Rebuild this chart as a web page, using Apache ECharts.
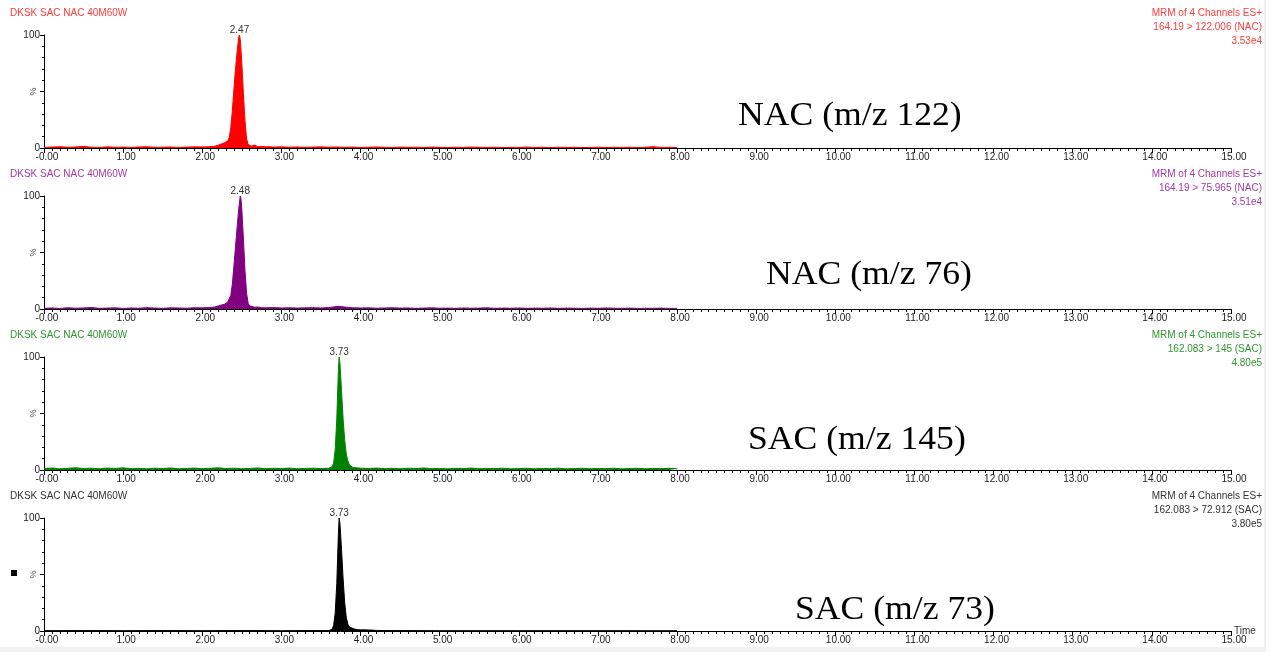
<!DOCTYPE html>
<html>
<head>
<meta charset="utf-8">
<title>MRM chromatograms</title>
<script src="https://cdn.jsdelivr.net/npm/echarts@6/dist/echarts.min.js"></script>
<style>
html, body { margin: 0; padding: 0; background: #fff; }
#main { width: 1274px; height: 652px; }
</style>
</head>
<body>
<div id="main"></div>
<script>
// [time (min), intensity (%)]
var nac122 = [
    [0,0.5],[0.1,0.8],[0.2,1.2],[0.3,0.6],[0.4,0.9],[0.5,1.4],[0.6,0.7],[0.7,0.5],[0.8,1.0],[0.9,0.6],
    [1.0,0.8],[1.1,0.5],[1.2,0.9],[1.3,1.1],[1.4,0.6],[1.5,0.7],[1.6,0.9],[1.7,0.5],[1.8,0.8],[1.9,1.0],
    [2.0,0.9],[2.1,1.2],[2.16,1.6],[2.2,2.4],[2.22,3.0],[2.24,3.5],[2.26,4.0],[2.28,4.6],[2.30,5.2],[2.32,6.2],
    [2.34,9],[2.36,18],[2.38,33],[2.40,52],[2.42,70],[2.44,85],[2.46,98],[2.47,100],[2.48,96],[2.50,75],
    [2.52,48],[2.54,24],[2.56,8],[2.58,3.2],[2.60,2.2],[2.62,1.6],[2.64,2.0],[2.66,2.6],[2.68,1.5],[2.70,1.3],
    [2.75,1.4],[2.8,1.0],[2.85,1.2],[2.9,0.8],[3.0,1.0],[3.1,0.7],[3.2,0.9],[3.3,0.6],[3.4,0.8],[3.5,1.0],
    [3.6,0.7],[3.7,0.9],[3.8,0.6],[3.9,0.8],[4.0,0.5],[4.1,0.7],[4.2,0.9],[4.3,0.6],[4.4,0.5],[4.5,0.8],
    [4.6,0.6],[4.7,0.7],[4.8,0.5],[4.9,0.8],[5.0,0.6],[5.1,0.4],[5.2,0.7],[5.3,0.5],[5.4,0.8],[5.5,0.6],
    [5.6,0.5],[5.7,0.7],[5.8,0.4],[5.9,0.6],[6.0,0.5],[6.1,0.8],[6.2,0.5],[6.3,0.6],[6.4,0.4],[6.5,0.7],
    [6.6,0.5],[6.7,0.6],[6.8,0.4],[6.9,0.5],[7.0,0.7],[7.1,0.4],[7.2,0.6],[7.3,0.5],[7.4,0.7],[7.5,0.4],
    [7.6,0.6],[7.7,1.2],[7.8,0.5],[7.9,0.6],[8.0,0.4]
];
var nac76 = [
    [0,0.6],[0.1,0.9],[0.2,0.5],[0.3,1.1],[0.4,0.7],[0.5,0.9],[0.6,1.3],[0.7,0.6],[0.8,0.8],[0.9,1.0],
    [1.0,0.5],[1.1,0.9],[1.2,0.7],[1.3,1.2],[1.4,0.8],[1.5,0.6],[1.6,1.0],[1.7,0.9],[1.8,0.7],[1.9,1.1],
    [2.0,1.0],[2.1,1.3],[2.16,1.8],[2.2,2.6],[2.24,3.5],[2.28,4.2],[2.30,5.0],[2.32,6.0],[2.34,7.5],[2.36,12],
    [2.38,22],[2.40,38],[2.42,55],[2.44,72],[2.46,88],[2.48,100],[2.49,97],[2.50,88],[2.52,62],[2.54,34],
    [2.56,14],[2.58,5],[2.60,2.8],[2.62,2.0],[2.66,1.6],[2.70,1.8],[2.75,1.2],[2.8,1.0],[2.9,1.3],[3.0,0.9],
    [3.1,1.1],[3.2,0.8],[3.3,1.0],[3.4,1.2],[3.5,0.9],[3.6,1.3],[3.66,1.8],[3.72,2.4],[3.78,1.9],[3.85,1.4],
    [3.9,1.1],[4.0,0.9],[4.1,1.0],[4.2,0.7],[4.3,0.9],[4.4,1.1],[4.5,0.8],[4.6,0.9],[4.7,0.6],[4.8,0.8],
    [4.9,1.0],[5.0,0.7],[5.1,0.8],[5.2,0.6],[5.3,0.9],[5.4,0.7],[5.5,0.8],[5.6,1.0],[5.7,0.6],[5.8,0.8],
    [5.9,0.7],[6.0,0.9],[6.1,0.6],[6.2,0.8],[6.3,0.7],[6.4,0.9],[6.5,0.6],[6.6,0.8],[6.7,0.7],[6.8,0.5],
    [6.9,0.8],[7.0,0.6],[7.1,0.9],[7.2,0.7],[7.3,0.6],[7.4,0.8],[7.5,0.5],[7.6,0.7],[7.7,0.6],[7.8,0.8],
    [7.9,0.5],[8.0,0.6]
];
var sac145 = [
    [0,1.2],[0.1,1.8],[0.2,1.0],[0.3,1.5],[0.4,2.0],[0.5,1.3],[0.6,1.6],[0.7,1.1],[0.8,1.7],[0.9,1.4],
    [1.0,1.9],[1.1,1.2],[1.2,1.5],[1.3,1.0],[1.4,1.6],[1.5,1.3],[1.6,1.8],[1.7,1.1],[1.8,1.4],[1.9,1.7],
    [2.0,1.2],[2.1,1.5],[2.2,1.9],[2.3,1.3],[2.4,1.6],[2.5,1.1],[2.6,1.4],[2.7,1.8],[2.8,1.2],[2.9,1.5],
    [3.0,1.3],[3.1,1.7],[3.2,1.1],[3.3,1.4],[3.4,1.6],[3.5,1.2],[3.6,1.6],[3.62,2.0],[3.64,2.8],[3.66,6],
    [3.68,18],[3.70,45],[3.72,88],[3.73,100],[3.74,94],[3.76,70],[3.78,45],[3.80,26],[3.82,14],[3.84,8],
    [3.86,4.5],[3.88,3.0],[3.90,2.4],[3.94,2.0],[4.0,1.6],[4.1,1.3],[4.2,1.7],[4.3,1.2],[4.4,1.5],[4.5,1.1],
    [4.6,1.6],[4.7,1.3],[4.8,1.8],[4.9,1.2],[5.0,1.4],[5.1,1.0],[5.2,1.5],[5.3,1.3],[5.4,1.7],[5.5,1.1],
    [5.6,1.4],[5.7,1.2],[5.8,1.6],[5.9,1.0],[6.0,1.3],[6.1,1.5],[6.2,1.1],[6.3,1.4],[6.4,1.2],[6.5,1.6],
    [6.6,1.0],[6.7,1.3],[6.8,1.5],[6.9,1.1],[7.0,1.4],[7.1,1.2],[7.2,1.6],[7.3,1.0],[7.4,1.3],[7.5,1.5],
    [7.6,1.1],[7.7,1.4],[7.8,1.2],[7.9,1.5],[8.0,1.1]
];
var sac73 = [
    [0,0.3],[0.5,0.4],[1.0,0.3],[1.5,0.4],[2.0,0.3],[2.5,0.4],[3.0,0.3],[3.5,0.4],[3.6,0.4],[3.62,0.6],
    [3.64,1.5],[3.66,5],[3.68,16],[3.70,42],[3.72,86],[3.73,100],[3.74,95],[3.76,72],[3.78,46],[3.80,25],
    [3.82,12],[3.84,6],[3.86,3.5],[3.88,2.5],[3.92,1.8],[3.96,1.2],[4.0,1.0],[4.05,1.0],[4.1,0.9],[4.15,0.8],
    [4.2,0.5],[4.3,0.4],[5.0,0.3],[6.0,0.3],[7.0,0.3],[8.0,0.3]
];

var traces = [nac122, nac76, sac145, sac73];
var peakTimes = [2.47, 2.48, 3.73, 3.73];
var channelLabels = ['NAC (m/z 122)', 'NAC (m/z 76)', 'SAC (m/z 145)', 'SAC (m/z 73)'];
var transitions = ['164.19 > 122.006 (NAC)', '164.19 > 75.965 (NAC)', '162.083 > 145 (SAC)', '162.083 > 72.912 (SAC)'];
var intensities = ['3.53e4', '3.51e4', '4.80e5', '3.80e5'];
var sampleName = 'DKSK SAC NAC 40M60W';
var scanName = 'MRM of 4 Channels ES+';

var traceColors = ['#ff0000', '#800080', '#008000', '#000000'];
var textColors = ['#ff3b3b', '#a33aa3', '#2e962e', '#333333'];
var gridTops = [35, 196, 357, 518];
var gridHeight = 113;
var labelPos = [[738, 116], [766, 275], [748, 440], [795, 610]];

var sansFont = '"Liberation Sans", Arial, sans-serif';
var serifFont = '"Liberation Serif", "Times New Roman", serif';

var grids = [], xAxes = [], yAxes = [], series = [], graphics = [];

for (var i = 0; i < 4; i++) {
    grids.push({ left: 44, right: 43, top: gridTops[i], height: gridHeight, outerBoundsMode: 'none' });

    xAxes.push({
        type: 'value',
        gridIndex: i,
        min: 0,
        max: 15,
        interval: 1,
        name: i === 3 ? 'Time' : '',
        nameLocation: 'end',
        nameGap: 3,
        nameMoveOverlap: false,
        nameTextStyle: { fontFamily: sansFont, fontSize: 10, color: '#333', verticalAlign: 'middle', padding: [0, 0, 6, 0] },
        axisLine: { lineStyle: { color: '#000', width: 1 } },
        axisTick: { length: 5, lineStyle: { color: '#000' } },
        minorTick: { show: true, splitNumber: 10, length: 3, lineStyle: { color: '#000' } },
        splitLine: { show: false },
        axisLabel: {
            fontFamily: sansFont,
            fontSize: 10,
            color: '#222',
            margin: 4,
            padding: [0, 0, 0, 6],
            formatter: function (v) { return v === 0 ? '-0.00' : v.toFixed(2); }
        }
    });

    yAxes.push({
        type: 'value',
        gridIndex: i,
        min: 0,
        max: 100,
        interval: 50,
        name: '%',
        nameLocation: 'middle',
        nameRotate: 90,
        nameGap: 6,
        nameMoveOverlap: false,
        nameTextStyle: { fontFamily: sansFont, fontSize: 9, color: '#555' },
        axisLine: { show: true, lineStyle: { color: '#000', width: 1 } },
        axisTick: { length: 4, lineStyle: { color: '#000' } },
        minorTick: { show: true, splitNumber: 5, length: 2, lineStyle: { color: '#000' } },
        splitLine: { show: false },
        axisLabel: {
            fontFamily: sansFont,
            fontSize: 10,
            color: '#222',
            margin: 4,
            formatter: function (v) { return v === 50 ? '' : String(v); }
        }
    });

    series.push({
        type: 'line',
        xAxisIndex: i,
        yAxisIndex: i,
        data: traces[i],
        showSymbol: false,
        symbol: 'none',
        animation: false,
        lineStyle: { color: traceColors[i], width: 1 },
        areaStyle: { color: traceColors[i], opacity: 1 },
        markPoint: {
            symbol: 'circle',
            symbolSize: 0,
            animation: false,
            label: {
                show: true,
                position: 'top',
                distance: 0,
                fontFamily: sansFont,
                fontSize: 10,
                color: '#333',
                formatter: '{b}'
            },
            data: [{ name: peakTimes[i].toFixed(2), coord: [peakTimes[i], 100] }]
        }
    });

    var headTop = gridTops[i] - 23;
    graphics.push({
        type: 'text',
        x: 10,
        y: headTop + 1,
        style: { text: sampleName, fill: textColors[i], font: '10px ' + sansFont, verticalAlign: 'middle' }
    });
    graphics.push({
        type: 'text',
        x: 1262,
        y: headTop - 6,
        style: {
            text: scanName + '\n' + transitions[i] + '\n' + intensities[i],
            fill: textColors[i],
            font: '10px ' + sansFont,
            align: 'right',
            lineHeight: 14
        }
    });
    graphics.push({
        type: 'text',
        x: labelPos[i][0],
        y: labelPos[i][1],
        scaleX: 1.08,
        style: {
            text: channelLabels[i],
            fill: '#000',
            font: '33px ' + serifFont,
            verticalAlign: 'middle'
        }
    });
}

// little marker left of the last trace, frame line on the right
graphics.push({ type: 'rect', shape: { x: 11, y: 570, width: 6, height: 6 }, style: { fill: '#000' } });
graphics.push({ type: 'line', shape: { x1: 1265, y1: 0, x2: 1265, y2: 652 }, style: { stroke: '#dddddd', lineWidth: 1 } });
graphics.push({ type: 'rect', shape: { x: 0, y: 647, width: 1265, height: 5 }, style: { fill: '#f2f2f2' } });

var myChart = echarts.init(document.getElementById('main'));
var option = {
    backgroundColor: '#fff',
    animation: false,
    grid: grids,
    xAxis: xAxes,
    yAxis: yAxes,
    series: series,
    graphic: graphics
};
myChart.setOption(option);
</script>
</body>
</html>
